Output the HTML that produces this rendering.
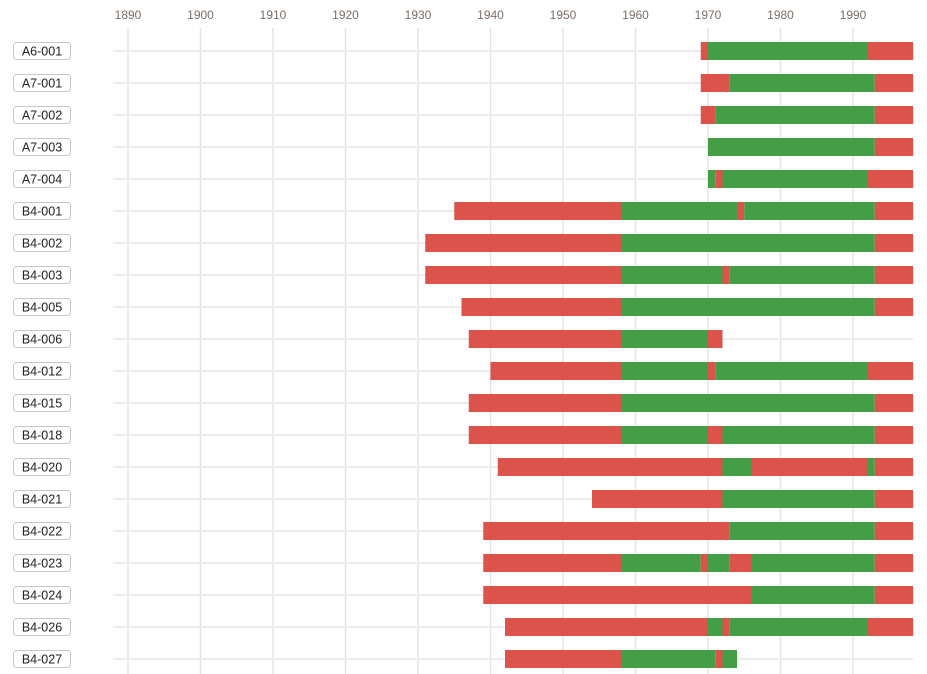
<!DOCTYPE html>
<html><head><meta charset="utf-8"><style>
body{margin:0;background:#fff;width:927px;height:674px;overflow:hidden;font-family:"Liberation Sans",sans-serif}
svg{display:block}
</style></head><body>
<svg id="chart" width="927" height="674" xmlns="http://www.w3.org/2000/svg"></svg>
<script>
const labels=["A6-001","A7-001","A7-002","A7-003","A7-004","B4-001","B4-002","B4-003","B4-005","B4-006","B4-012","B4-015","B4-018","B4-020","B4-021","B4-022","B4-023","B4-024","B4-026","B4-027"];
const starts=[1969,1969,1969,1970,1970,1935,1931,1931,1936,1937,1940,1937,1937,1941,1954,1939,1939,1939,1942,1942];
const ends=[[1970,1992,1998.3],[1973,1993,1998.3],[1971,1993,1998.3],[1993,1998.3],[1971,1972,1992,1998.3],[1958,1974,1975,1993,1998.3],[1958,1993,1998.3],[1958,1972,1973,1993,1998.3],[1958,1993,1998.3],[1958,1970,1972],[1958,1970,1971,1992,1998.3],[1958,1993,1998.3],[1958,1970,1972,1993,1998.3],[1972,1976,1992,1993,1998.3],[1972,1993,1998.3],[1973,1993,1998.3],[1958,1969,1970,1973,1976,1993,1998.3],[1976,1993,1998.3],[1970,1972,1973,1992,1998.3],[1958,1971,1972,1974]];
const states=[["r","g","r"],["r","g","r"],["r","g","r"],["g","r"],["g","r","g","r"],["r","g","r","g","r"],["r","g","r"],["r","g","r","g","r"],["r","g","r"],["r","g","r"],["r","g","r","g","r"],["r","g","r"],["r","g","r","g","r"],["r","g","r","g","r"],["r","g","r"],["r","g","r"],["r","g","r","g","r","g","r"],["r","g","r"],["r","g","r","g","r"],["r","g","r","g"]];
const ticks=[1890,1900,1910,1920,1930,1940,1950,1960,1970,1980,1990];
const NS="http://www.w3.org/2000/svg",svg=document.getElementById('chart');
const x=yr=>128+(yr-1890)*7.25, y=i=>51+i*32;
const col={r:"#db534b",g:"#439e45"};
function mk(t,a,txt){const e=document.createElementNS(NS,t);for(const k in a)e.setAttribute(k,a[k]);if(txt!=null)e.textContent=txt;svg.appendChild(e);return e;}
ticks.forEach(t=>{
 const l=mk('line',{x1:x(t),x2:x(t),y1:28,y2:674,stroke:"#e3e3e3","stroke-width":1.5});
 
 
 const tx=mk('text',{x:x(t),y:19,"text-anchor":"middle","font-size":12,fill:"#7a6e66"},t);
 
 
});
labels.forEach((lb,i)=>{
 const g=mk('line',{x1:113,x2:913,y1:y(i),y2:y(i),stroke:"#ebebeb","stroke-width":2});
 
 
 const b=mk('rect',{x:13.5,y:y(i)-8.5,width:57,height:17,rx:3,fill:"#fff",stroke:"#c8c8c8"});
 
 
 const t=mk('text',{x:42,y:y(i)+4.5,"text-anchor":"middle","font-size":12.5,fill:"#222"},lb);
 
 
 let s=starts[i];
 ends[i].forEach((e,j)=>{
  const r=mk('rect',{x:x(s),y:y(i)-9,width:x(e)-x(s),height:18,fill:col[states[i][j]]});
  
  
  s=e;
 });
});
</script>
</body></html>
